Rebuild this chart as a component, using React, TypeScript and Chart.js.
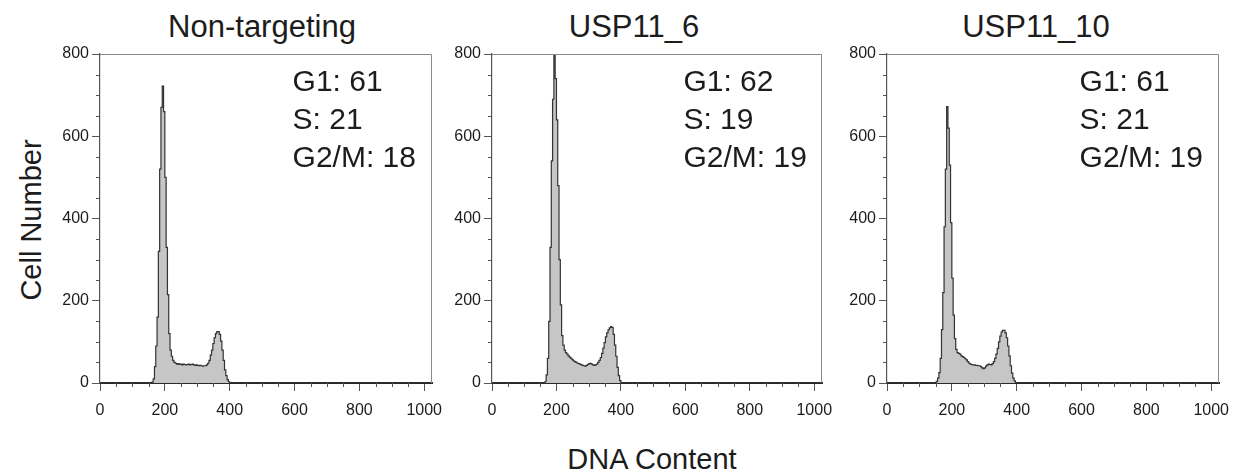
import React, { useEffect, useRef } from "react";
import { Chart, registerables } from "chart.js";

Chart.register(...registerables);

// DNA content channel (bin start), shared by all three histograms
const CHANNELS = [
  148, 152, 156, 160, 164, 168, 172, 176, 180, 184, 188, 192, 196, 200, 204, 208,
  212, 216, 220, 224, 228, 232, 236, 240, 244, 248, 252, 256, 260, 264, 268, 272,
  276, 280, 284, 288, 292, 296, 300, 304, 308, 312, 316, 320, 324, 328, 332, 336,
  340, 344, 348, 352, 356, 360, 364, 368, 372, 376, 380, 384, 388, 392, 396, 400, 404,
];

// Cell number per channel bin
const NON_TARGETING = [
  0, 0, 0, 2, 10, 40, 90, 160, 320, 520, 670, 722, 660, 500, 330, 215,
  120, 80, 65, 55, 50, 48, 46, 47, 45, 46, 44, 46, 45, 44, 45, 46,
  44, 45, 46, 44, 43, 44, 43, 42, 43, 42, 41, 42, 42, 44, 48, 55,
  68, 80, 96, 110, 120, 125, 125, 118, 102, 80, 55, 32, 18, 8, 3, 0, 0,
];
const USP11_6 = [
  0, 0, 0, 0, 3, 20, 60, 150, 330, 540, 690, 800, 740, 640, 480, 300,
  190, 115, 92, 80, 74, 70, 66, 63, 60, 57, 54, 52, 50, 48, 47, 46,
  44, 43, 42, 41, 43, 45, 47, 48, 46, 44, 43, 44, 46, 50, 55, 62,
  72, 85, 98, 112, 122, 129, 134, 137, 135, 118, 92, 65, 38, 18, 6, 1, 0,
];
const USP11_10 = [
  0, 4, 12, 25, 60, 130, 220, 380, 520, 672, 620, 530, 390, 255, 165, 108,
  82, 74, 72, 70, 66, 64, 62, 59, 56, 52, 48, 46, 45, 44, 44, 43,
  43, 42, 42, 40, 37, 35, 37, 41, 44, 46, 45, 44, 47, 52, 60, 70,
  84, 100, 114, 124, 128, 128, 122, 110, 90, 66, 42, 24, 12, 5, 1, 0, 0,
];

const PANEL_TITLES = ["Non-targeting", "USP11_6", "USP11_10"];
const G1_PCT = [61, 62, 61];
const S_PCT = [21, 19, 21];
const G2M_PCT = [18, 19, 19];

const X_TICKS = [0, 200, 400, 600, 800, 1000];
const Y_TICKS = [0, 200, 400, 600, 800];

const SERIES = [NON_TARGETING, USP11_6, USP11_10];
const PLOT_BOXES = [
  [99.5, 431],
  [492, 822],
  [886.5, 1218],
];
const TITLE_CENTERS = [262, 634, 1036];

const TICK_FONT = { family: '"Liberation Sans", Arial, sans-serif', size: 16 };
const TEXT_COLOR = "#1c1c1c";
const AXIS_LEFT = 50;
const PAD_RIGHT = 24;
const PAD_TOP = 14;
const AXIS_BOTTOM = 40;
const PLOT_TOP = 54;
const PLOT_H = 329;

const boxPlugin = {
  id: "boxLines",
  afterDraw(chart: any) {
    const { ctx, chartArea: a, scales } = chart;
    ctx.save();
    ctx.strokeStyle = "#8a8a8a";
    ctx.lineWidth = 1;
    ctx.beginPath();
    ctx.moveTo(a.left, a.top + 0.5);
    ctx.lineTo(a.right - 0.5, a.top + 0.5);
    ctx.lineTo(a.right - 0.5, a.bottom);
    ctx.stroke();
    // minor ticks
    ctx.strokeStyle = "#555";
    ctx.beginPath();
    const xs = scales.x;
    for (let v = 0; v <= 1000; v += 50) {
      if (v % 200 === 0) continue;
      const px = Math.round(xs.getPixelForValue(v)) + 0.5;
      ctx.moveTo(px, a.bottom);
      ctx.lineTo(px, a.bottom + 4);
    }
    const ys = scales.y;
    for (let v = 0; v <= 800; v += 50) {
      if (v % 200 === 0) continue;
      const py = Math.round(ys.getPixelForValue(v)) + 0.5;
      ctx.moveTo(a.left - 4, py);
      ctx.lineTo(a.left, py);
    }
    ctx.stroke();
    ctx.restore();
  },
};

function makeAnnotationPlugin(lines: string[]) {
  return {
    id: "phaseText",
    afterDraw(chart: any) {
      const { ctx, scales } = chart;
      ctx.save();
      ctx.font = '30px "Liberation Sans", Arial, sans-serif';
      ctx.fillStyle = TEXT_COLOR;
      ctx.textBaseline = "alphabetic";
      ctx.textAlign = "left";
      const x = scales.x.getPixelForValue(594);
      const yv = [710, 617, 525];
      lines.forEach((t, i) => ctx.fillText(t, x, scales.y.getPixelForValue(yv[i])));
      ctx.restore();
    },
  };
}

function Panel({ idx }: { idx: number }) {
  const ref = useRef<HTMLCanvasElement>(null);
  const [L, R] = PLOT_BOXES[idx];
  const width = Math.round(R - L + AXIS_LEFT + PAD_RIGHT);
  const height = PAD_TOP + PLOT_H + AXIS_BOTTOM;
  useEffect(() => {
    const values = SERIES[idx];
    const data = [
      { x: 0, y: 0 },
      ...CHANNELS.map((c, i) => ({ x: c, y: values[i] })),
      { x: 1024, y: 0 },
    ];
    const chart = new Chart(ref.current as HTMLCanvasElement, {
      type: "line",
      data: {
        datasets: [
          {
            data,
            stepped: true,
            fill: "origin",
            backgroundColor: "#c6c6c6",
            borderColor: "#333",
            borderWidth: 1.2,
            pointRadius: 0,
          } as any,
        ],
      },
      options: {
        animation: false,
        responsive: false,
        maintainAspectRatio: false,
        devicePixelRatio: 1,
        layout: { padding: { top: PAD_TOP, right: PAD_RIGHT, left: 0, bottom: 0 } },
        plugins: {
          legend: { display: false },
          tooltip: { enabled: false },
          title: { display: false },
        },
        scales: {
          x: {
            type: "linear",
            min: 0,
            max: 1024,
            afterBuildTicks: (sc: any) => {
              sc.ticks = X_TICKS.map((v) => ({ value: v }));
            },
            afterFit: (sc: any) => {
              sc.height = AXIS_BOTTOM;
            },
            ticks: {
              font: TICK_FONT,
              color: TEXT_COLOR,
              padding: 10,
              maxRotation: 0,
              autoSkip: false,
              callback: (v: any) => String(v),
            },
            grid: {
              drawOnChartArea: false,
              tickLength: 8,
              tickColor: "#555",
              tickWidth: 1,
            },
            border: { color: "#2a2a2a", width: 2 },
          },
          y: {
            type: "linear",
            min: 0,
            max: 800,
            afterBuildTicks: (sc: any) => {
              sc.ticks = Y_TICKS.map((v) => ({ value: v }));
            },
            afterFit: (sc: any) => {
              sc.width = AXIS_LEFT;
            },
            ticks: {
              font: TICK_FONT,
              color: TEXT_COLOR,
              padding: 3,
              autoSkip: false,
              callback: (v: any) => String(v),
            },
            grid: {
              drawOnChartArea: false,
              tickLength: 8,
              tickColor: "#555",
              tickWidth: 1,
            },
            border: { color: "#555", width: 1.2 },
          },
        },
      } as any,
      plugins: [
        boxPlugin,
        makeAnnotationPlugin([
          `G1: ${G1_PCT[idx]}`,
          `S: ${S_PCT[idx]}`,
          `G2/M: ${G2M_PCT[idx]}`,
        ]),
      ],
    });
    return () => chart.destroy();
  }, [idx]);
  return (
    <>
      <div
        style={{
          position: "absolute",
          left: TITLE_CENTERS[idx],
          top: 27,
          transform: "translate(-50%, -50%)",
          fontSize: 31,
          lineHeight: "36px",
          color: TEXT_COLOR,
          whiteSpace: "nowrap",
        }}
      >
        {PANEL_TITLES[idx]}
      </div>
      <canvas
        ref={ref}
        width={width}
        height={height}
        style={{
          position: "absolute",
          left: L - AXIS_LEFT,
          top: PLOT_TOP - PAD_TOP,
          width,
          height,
        }}
      />
    </>
  );
}

export default function App() {
  return (
    <div
      style={{
        position: "absolute",
        left: 0,
        top: 0,
        width: 1235,
        height: 476,
        background: "#fff",
        overflow: "hidden",
        fontFamily: '"Liberation Sans", Arial, sans-serif',
      }}
    >
      {PANEL_TITLES.map((_, i) => (
        <Panel key={i} idx={i} />
      ))}
      <div
        style={{
          position: "absolute",
          left: 31,
          top: 220,
          transform: "translate(-50%, -50%) rotate(-90deg)",
          fontSize: 29,
          lineHeight: "34px",
          color: TEXT_COLOR,
          whiteSpace: "nowrap",
        }}
      >
        Cell Number
      </div>
      <div
        style={{
          position: "absolute",
          left: 652,
          top: 459,
          transform: "translate(-50%, -50%)",
          fontSize: 29,
          lineHeight: "34px",
          color: TEXT_COLOR,
          whiteSpace: "nowrap",
        }}
      >
        DNA Content
      </div>
    </div>
  );
}
